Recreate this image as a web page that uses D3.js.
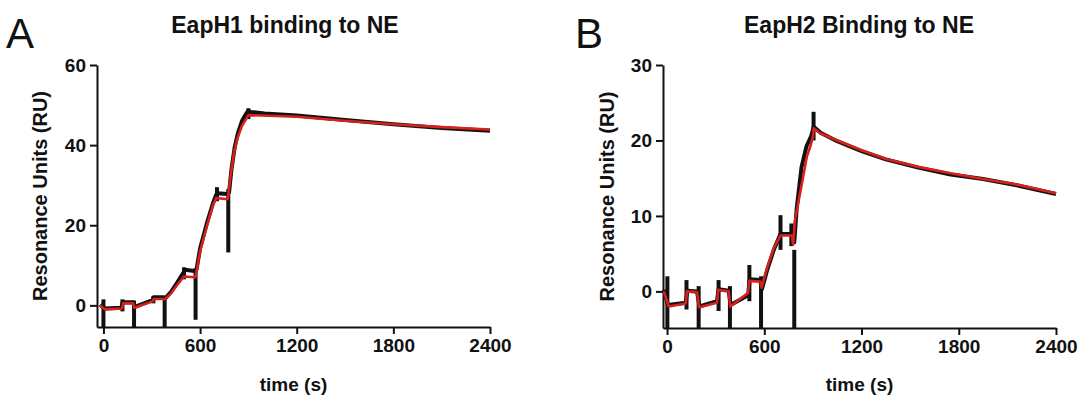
<!DOCTYPE html>
<html>
<head>
<meta charset="utf-8">
<script src="https://cdn.jsdelivr.net/npm/d3@7"></script>
<style>
  html, body { margin: 0; padding: 0; background: #fff; }
  svg { display: block; }
  text { font-family: Arial, "Liberation Sans", sans-serif; }
</style>
</head>
<body>
<svg id="chart" width="1079" height="399"></svg>
<script>
// ---------- Data ----------
const xTicks = [0, 600, 1200, 1800, 2400];
const yTicksA = [0, 20, 40, 60];
const yTicksB = [0, 10, 20, 30];

// Panel A: EapH1 — measured sensorgram (black), fitted curve (red), injection spikes [t, low, high]
const dataA = [[-20,0.2],[5,-0.8],[110,-0.6],[120,0.8],[185,0.8],[195,-0.4],[305,1.3],[312,2.0],[375,2.0],[385,1.8],[420,3.4],[460,5.8],[500,8.4],[505,8.9],[565,8.6],[578,9.0],[600,14.2],[640,20.2],[680,25.5],[700,27.6],[705,28.0],[770,27.8],[780,28.2],[795,34],[815,39.5],[835,43],[860,46],[885,47.8],[900,48.6],[910,48.3],[1000,47.9],[1200,47.4],[1500,46.3],[1800,45.2],[2100,44.3],[2400,43.6]];
const fitA = [[-20,0.0],[8,-1.0],[115,-0.8],[122,0.5],[185,0.5],[192,-0.6],[305,1.0],[312,1.6],[375,1.6],[382,1.5],[420,3.0],[460,5.2],[500,7.2],[570,7.0],[575,7.8],[600,13.5],[640,19.5],[680,25.0],[700,26.8],[770,26.5],[775,27.5],[790,32.5],[810,38.0],[830,41.5],[860,44.8],[890,46.8],[900,47.5],[1200,47.1],[1500,46.1],[1800,45.2],[2100,44.5],[2400,43.9]];
const spikesA = [[0,-5.4,1.5],[118,-1.5,1.5],[190,-5.4,1.2],[310,0.5,2.3],[380,-5.4,2.2],[500,6.5,9.5],[572,-3.6,9.3],[705,26.0,29.5],[775,13.2,29.0],[900,46.5,49.2]];

// Panel B: EapH2
const dataB = [[-20,0.2],[5,-1.8],[115,-1.5],[125,0.1],[185,0.0],[200,-2.0],[308,-1.3],[318,0.3],[380,0.1],[392,-1.8],[500,-0.5],[510,1.6],[575,1.5],[585,0.3],[620,3.0],[660,5.6],[700,7.6],[770,7.6],[785,6.5],[800,11],[830,16.5],[860,19.2],[890,20.6],[905,21.8],[950,21.0],[1050,19.9],[1200,18.6],[1350,17.5],[1550,16.4],[1750,15.5],[1950,14.9],[2150,14.1],[2400,12.9]];
const fitB = [[-20,0.0],[10,-2.0],[115,-1.6],[123,0.0],[185,-0.1],[198,-2.1],[308,-1.5],[316,0.2],[380,0.0],[390,-2.0],[500,-0.2],[508,1.4],[575,1.3],[583,0.5],[620,3.3],[660,5.8],[700,7.4],[770,7.4],[778,6.2],[790,9.5],[832,14.3],[863,17.9],[884,19.2],[900,20.5],[905,21.6],[945,20.95],[1050,20.0],[1200,18.7],[1350,17.55],[1550,16.5],[1750,15.65],[1950,14.9],[2150,14.2],[2400,13.0]];
const spikesB = [[2,-4.9,2.0],[120,-2.4,1.5],[195,-4.9,0.7],[318,-2.6,1.5],[388,-4.9,0.7],[508,-1.3,3.5],[580,-4.9,2.0],[700,5.5,10.1],[767,6.0,9.0],[785,-4.9,5.5],[904,20.0,23.8]];

// ---------- Drawing ----------
const svg = d3.select("#chart");
const BLACK = "#111";
const RED = "#d8201c";

function panel(cfg) {
  const g = svg.append("g");
  const x = d3.scaleLinear().domain(cfg.xDomain).range(cfg.xRange);
  const y = d3.scaleLinear().domain(cfg.yDomain).range(cfg.yRange);

  const xAxis = d3.axisBottom(x).tickValues(xTicks).tickSize(7).tickSizeOuter(0).tickPadding(5).tickFormat(d3.format("d"));
  const yAxis = d3.axisLeft(y).tickValues(cfg.yTicks).tickSize(7).tickSizeOuter(0).tickPadding(4).tickFormat(d3.format("d"));

  const gx = g.append("g").attr("transform", `translate(0,${cfg.yRange[0]})`).call(xAxis);
  const gy = g.append("g").attr("transform", `translate(${cfg.xRange[0]},0)`).call(yAxis);
  [gx, gy].forEach(a => {
    a.select(".domain").attr("stroke", BLACK).attr("stroke-width", 2);
    a.selectAll(".tick line").attr("stroke", BLACK).attr("stroke-width", 2);
    a.selectAll(".tick text").attr("fill", BLACK).style("font-size", "19px").style("font-weight", "bold");
  });

  const line = d3.line().x(d => x(d[0])).y(d => y(d[1]));

  g.append("path").datum(cfg.data).attr("d", line)
    .attr("fill", "none").attr("stroke", BLACK).attr("stroke-width", 4).attr("stroke-linejoin", "round");
  g.selectAll("line.spike").data(cfg.spikes).enter().append("line").attr("class", "spike")
    .attr("x1", d => x(d[0])).attr("x2", d => x(d[0]))
    .attr("y1", d => y(d[1])).attr("y2", d => y(d[2]))
    .attr("stroke", BLACK).attr("stroke-width", 4);
  g.append("path").datum(cfg.fit).attr("d", line)
    .attr("fill", "none").attr("stroke", RED).attr("stroke-width", 2.6).attr("stroke-linejoin", "round");

  const cx = (cfg.xRange[0] + cfg.xRange[1]) / 2;
  svg.append("text").attr("x", cfg.titleX).attr("y", 33).attr("text-anchor", "middle")
    .style("font-size", "23px").style("font-weight", "bold").attr("fill", BLACK).text(cfg.title);
  svg.append("text").attr("x", cfg.letterX).attr("y", 48)
    .style("font-size", "42px").attr("fill", BLACK).text(cfg.letter);
  svg.append("text").attr("x", cx).attr("y", 391).attr("text-anchor", "middle")
    .style("font-size", "19px").style("font-weight", "bold").attr("fill", BLACK).text("time (s)");
  svg.append("text").attr("transform", `translate(${cfg.yLabelX},${(cfg.yRange[0] + cfg.yRange[1]) / 2}) rotate(-90)`)
    .attr("text-anchor", "middle")
    .style("font-size", "20px").style("font-weight", "bold").attr("fill", BLACK).text("Resonance Units (RU)");
}

panel({
  xDomain: [-40, 2400], xRange: [97, 490],
  yDomain: [-5.4, 60], yRange: [327, 65], yTicks: yTicksA,
  data: dataA, fit: fitA, spikes: spikesA,
  title: "EapH1 binding to NE", titleX: 285, letter: "A", letterX: 6, yLabelX: 47
});
panel({
  xDomain: [-25, 2400], xRange: [663, 1056],
  yDomain: [-4.85, 30], yRange: [328, 65], yTicks: yTicksB,
  data: dataB, fit: fitB, spikes: spikesB,
  title: "EapH2 Binding to NE", titleX: 859, letter: "B", letterX: 575, yLabelX: 614
});
</script>
</body>
</html>
